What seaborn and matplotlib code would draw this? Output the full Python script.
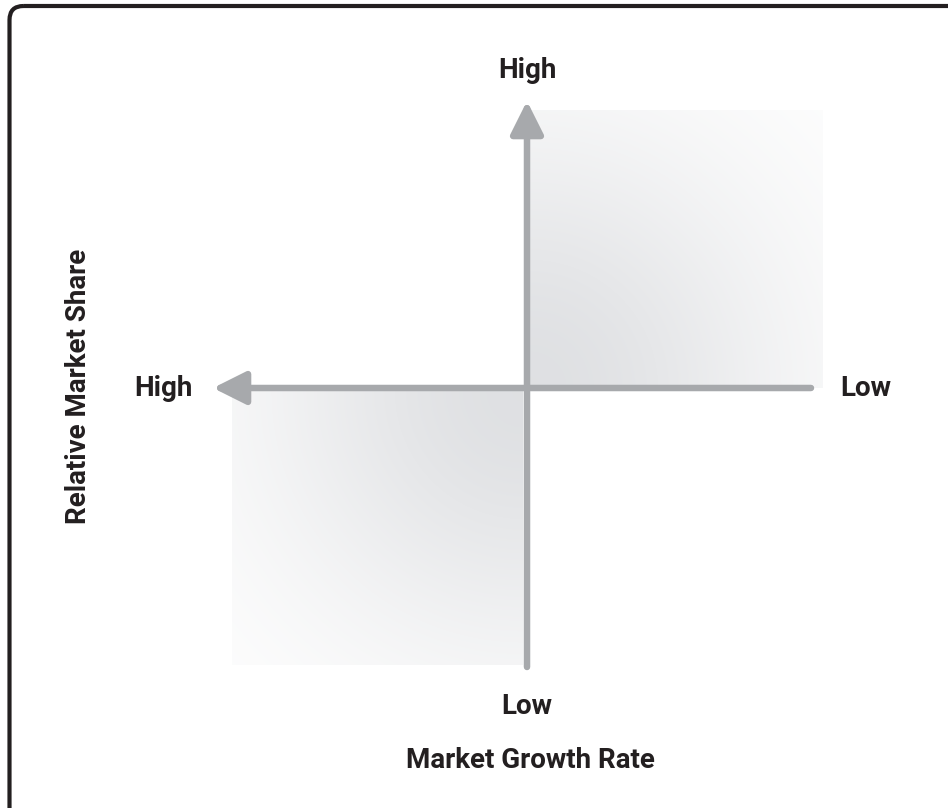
import numpy as np
import matplotlib
matplotlib.use("Agg")
import matplotlib.pyplot as plt
from matplotlib.patches import FancyBboxPatch
import seaborn as sns

# Diagram content
x_axis_title = "Market Growth Rate"
y_axis_title = "Relative Market Share"
end_labels = ["High", "Low", "High", "Low"]  # top, bottom, left, right

# Layout (pixel coordinates, figure is 948 x 808)
W, H = 948, 808
cx, cy = 527, 388            # axes crossing
v_top, v_bottom = 101, 667   # vertical arrow tip / line end
h_left, h_right = 213, 811   # horizontal arrow tip / line end
shade_tr = (530, 823, 110, 388)   # x0, x1, y0, y1
shade_bl = (232, 523, 391, 665)

axis_color = "#a7a9ac"
text_color = "#231f20"

sns.set_theme(style="white")
plt.rcParams["font.family"] = ["Roboto", "DejaVu Sans"]

fig = plt.figure(figsize=(W / 100, H / 100), dpi=100)
ax = fig.add_axes([0, 0, 1, 1])


def shade(ext, corner):
    # soft grey fill, darkest where the two axes cross
    x0, x1, y0, y1 = ext
    xs = np.arange(x0, x1) + 0.5
    ys = np.arange(y0, y1) + 0.5
    gx, gy = np.meshgrid(xs, ys)
    r = np.hypot(gx - corner[0], gy - corner[1])
    k = np.exp(-(r / 260) ** 2)
    rgb = np.stack([1 - 0.125 * k, 1 - 0.12 * k, 1 - 0.11 * k], axis=-1)
    ax.imshow(rgb, extent=(x0, x1, y1, y0), origin="upper",
              interpolation="bilinear", aspect="auto", zorder=1)


shade(shade_tr, (shade_tr[0], shade_tr[3]))
shade(shade_bl, (shade_bl[1], shade_bl[2]))

# border (right and bottom edges fall outside the picture)
ax.add_patch(FancyBboxPatch((9.5, 6), 1200, 1100,
                            boxstyle="round,pad=0,rounding_size=14",
                            lw=3.0, edgecolor=text_color, facecolor="none", zorder=5))

# axes arrows
lw = 6.5 * 0.72
for tip, tail in [((cx, v_top), (cx, v_bottom)), ((h_left, cy), (h_right, cy))]:
    ax.annotate("", xy=tip, xytext=tail,
                arrowprops=dict(arrowstyle="-|>,head_length=1.0,head_width=0.5",
                                lw=lw, color=axis_color, shrinkA=0, shrinkB=0,
                                mutation_scale=20), zorder=3)

fs = 20
kw = dict(fontsize=fs, fontweight="bold", color=text_color, ha="center", va="center")
ax.text(cx, 70, end_labels[0], **kw)
ax.text(cx, 706, end_labels[1], **kw)
ax.text(163, cy, end_labels[2], **kw)
ax.text(866, cy, end_labels[3], **kw)
ax.text(530, 761, x_axis_title, **kw)
ax.text(79, 386, y_axis_title, rotation=90, **kw)

ax.set_xlim(0, W)
ax.set_ylim(H, 0)
ax.axis("off")

fig.savefig("out.png", dpi=100, facecolor="white")
